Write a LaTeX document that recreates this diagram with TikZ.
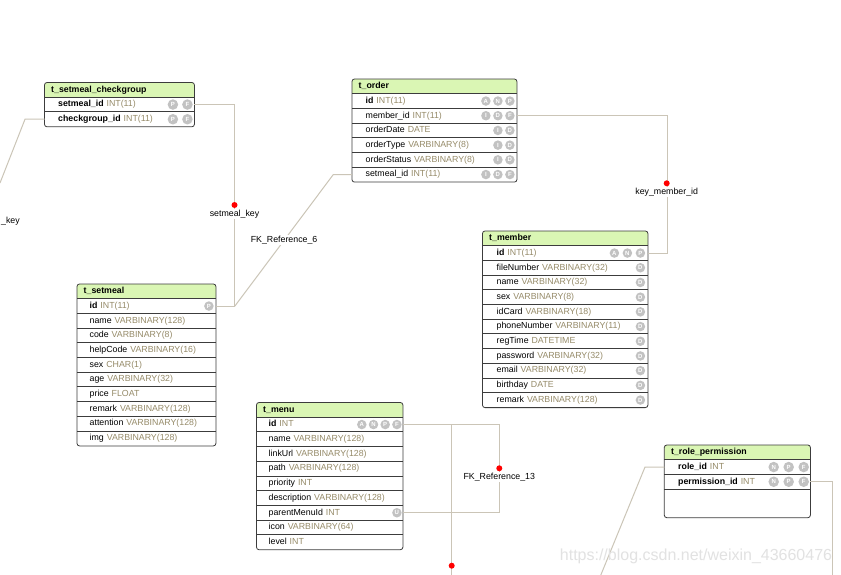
\documentclass[tikz,border=0pt]{standalone}
\usepackage{fontspec}
\setmainfont{Liberation Sans}
\usetikzlibrary{positioning}
\definecolor{headgreen}{HTML}{DAF6B4}
\definecolor{typegray}{HTML}{968B69}
\definecolor{icongray}{HTML}{C2C2C2}
\definecolor{linkgray}{HTML}{CBC5B7}
\definecolor{framegray}{HTML}{3C3C3C}
\definecolor{markgray}{HTML}{E2E2E2}
\newcommand{\erfont}{\fontsize{8.8}{10.5}\selectfont}
% frame, green header and title of one table
\newcommand{\ertable}[6]{%
  \node[tablebox, minimum width=#4pt, minimum height=#5pt] (#1) at (#2,#3) {};
  \begin{scope}
    \clip[rounded corners=2.5pt] (#1.north west) rectangle (#1.south east);
    \fill[headgreen] (#1.north west) rectangle ([yshift=-14.5pt]#1.north east);
  \end{scope}
  \draw[framegray, line width=0.8pt, rounded corners=2.5pt]
    (#1.north west) rectangle (#1.south east);
  \node[tabtitle] (#1-title) at ([xshift=6.5pt, yshift=-7.25pt]#1.north west) {#6};
}

\begin{document}
\begin{tikzpicture}[
    x=1pt, y=-1pt,
    tablebox/.style={anchor=north west, inner sep=0pt, fill=white},
    tabtitle/.style={anchor=west, inner sep=0pt, font=\erfont\bfseries,
      text height=6.4pt, text depth=1.8pt},
    tabrow/.style={anchor=north west, inner sep=0pt, minimum height=14.7pt,
      align=left, font=\erfont, text height=6.4pt, text depth=1.8pt},
    rowline/.style={framegray, line width=0.6pt},
    icon/.style={circle, fill=icongray, text=white, inner sep=0pt,
      minimum size=9.5pt, font=\fontsize{6}{6}\selectfont\bfseries},
    bigicon/.style={icon, minimum size=10.5pt},
    link/.style={draw=linkgray, line width=1pt},
    reddot/.style={circle, fill=red, inner sep=0pt, minimum size=6pt},
    linklabel/.style={fill=white, inner sep=1pt, font=\erfont},
    watermark/.style={text=markgray, font=\fontsize{16}{18}\selectfont}
  ]
  \useasboundingbox (0,0) rectangle (841,575);
  \fill[white] (0,0) rectangle (841,575);

  % t_setmeal_checkgroup
  \ertable{checkgroup}{44.5}{82.5}{149.5}{43.9}{t\_setmeal\_checkgroup}
  \foreach \fname/\ftype [count=\i] in {setmeal\_id/INT(11), checkgroup\_id/INT(11)} {
    \node[tabrow, text width=136pt] (checkgroup-\i) at (58, {97+(\i-1)*14.7})
      {\textbf{\fname}\ \textcolor{typegray}{\ftype}};
    \draw[rowline] (checkgroup.west |- checkgroup-\i.north) -- (checkgroup.east |- checkgroup-\i.north);
  }
  \foreach \rw in {1,2}
    \foreach \ic [count=\k] in {F,P}
      \node[bigicon] (checkgroup-\rw-\k) at ([xshift={-7pt-(\k-1)*14.5pt}]checkgroup-\rw.east) {\ic};

  % t_order
  \ertable{order}{352}{79}{164.5}{102.7}{t\_order}
  \foreach \fname/\ftype [count=\i] in {\textbf{id}/INT(11), member\_id/INT(11),
      orderDate/DATE, orderType/VARBINARY(8), orderStatus/VARBINARY(8), setmeal\_id/INT(11)} {
    \node[tabrow, text width=151pt] (order-\i) at (365.5, {93.5+(\i-1)*14.7})
      {\fname\ \textcolor{typegray}{\ftype}};
    \draw[rowline] (order.west |- order-\i.north) -- (order.east |- order-\i.north);
  }
  % icons listed from right to left
  \foreach \rw/\ics in {1/{P,N,A}, 2/{F,D,I}, 3/{D,I}, 4/{D,I}, 5/{D,I}, 6/{F,D,I}}
    \foreach \ic [count=\k] in \ics
      \node[icon] (order-\rw-\k) at ([xshift={-7pt-(\k-1)*12pt}]order-\rw.east) {\ic};

  % t_member
  \ertable{member}{482.5}{231}{165}{176.2}{t\_member}
  \foreach \fname/\ftype [count=\i] in {\textbf{id}/INT(11), fileNumber/VARBINARY(32),
      name/VARBINARY(32), sex/VARBINARY(8), idCard/VARBINARY(18), phoneNumber/VARBINARY(11),
      regTime/DATETIME, password/VARBINARY(32), email/VARBINARY(32), birthday/DATE,
      remark/VARBINARY(128)} {
    \node[tabrow, text width=151pt] (member-\i) at (496.5, {245.5+(\i-1)*14.7})
      {\fname\ \textcolor{typegray}{\ftype}};
    \draw[rowline] (member.west |- member-\i.north) -- (member.east |- member-\i.north);
  }
  \foreach \rw/\ics in {1/{P,N,A}, 2/D, 3/D, 4/D, 5/D, 6/D, 7/D, 8/D, 9/D, 10/D, 11/D}
    \foreach \ic [count=\k] in \ics
      \node[icon] (member-\rw-\k) at ([xshift={-7.5pt-(\k-1)*13pt}]member-\rw.east) {\ic};

  % t_setmeal
  \ertable{setmeal}{77}{284}{138.5}{161.5}{t\_setmeal}
  \foreach \fname/\ftype [count=\i] in {\textbf{id}/INT(11), name/VARBINARY(128),
      code/VARBINARY(8), helpCode/VARBINARY(16), sex/CHAR(1), age/VARBINARY(32),
      price/FLOAT, remark/VARBINARY(128), attention/VARBINARY(128), img/VARBINARY(128)} {
    \node[tabrow, text width=126pt] (setmeal-\i) at (89.5, {298.5+(\i-1)*14.7})
      {\fname\ \textcolor{typegray}{\ftype}};
    \draw[rowline] (setmeal.west |- setmeal-\i.north) -- (setmeal.east |- setmeal-\i.north);
  }
  \node[icon] (setmeal-1-1) at ([xshift=-7pt]setmeal-1.east) {P};

  % t_menu
  \ertable{menu}{256.5}{402.5}{146}{146.8}{t\_menu}
  \foreach \fname/\ftype [count=\i] in {\textbf{id}/INT, name/VARBINARY(128),
      linkUrl/VARBINARY(128), path/VARBINARY(128), priority/INT,
      description/VARBINARY(128), parentMenuId/INT, icon/VARBINARY(64), level/INT} {
    \node[tabrow, text width=134pt] (menu-\i) at (268.5, {417+(\i-1)*14.7})
      {\fname\ \textcolor{typegray}{\ftype}};
    \draw[rowline] (menu.west |- menu-\i.north) -- (menu.east |- menu-\i.north);
  }
  \foreach \rw/\ics in {1/{F,P,N,A}, 7/U}
    \foreach \ic [count=\k] in \ics
      \node[icon] (menu-\rw-\k) at ([xshift={-6pt-(\k-1)*11.7pt}]menu-\rw.east) {\ic};

  % t_role_permission
  \ertable{rolep}{664.3}{445}{145.7}{72.3}{t\_role\_permission}
  \foreach \fname/\ftype [count=\i] in {role\_id/INT, permission\_id/INT} {
    \node[tabrow, text width=132pt] (rolep-\i) at (678, {459.5+(\i-1)*14.7})
      {\textbf{\fname}\ \textcolor{typegray}{\ftype}};
    \draw[rowline] (rolep.west |- rolep-\i.north) -- (rolep.east |- rolep-\i.north);
  }
  \draw[rowline] (rolep.west |- rolep-2.south) -- (rolep.east |- rolep-2.south);
  \foreach \rw in {1,2}
    \foreach \ic [count=\k] in {F,P,N}
      \node[bigicon] (rolep-\rw-\k) at ([xshift={-6.7pt-(\k-1)*15pt}]rolep-\rw.east) {\ic};

  % connectors
  \path (setmeal-1.east) ++(19,0) coordinate (setmealjoint);
  \path (member-1.east) ++(19.2,0) coordinate (memberjoint);
  \path (menu-7.east) ++(96.8,0) coordinate (menuloop);
  \coordinate (menuout) at (451.7,580);
  \coordinate (checkout) at (0,183);
  \coordinate (roleout) at (600,577);
  \coordinate (permout) at (832.3,580);

  \draw[link] (checkgroup-1.east) -| (setmealjoint) -- (setmeal-1.east);
  \draw[link] (order.west |- order-6.west) -- ++(-18.7,0)
    -- node[linklabel] (fkref6-label) {FK\_Reference\_6} (setmealjoint);
  \draw[link] (order-2.east) -| (memberjoint) -- (member-1.east);
  \draw[link] (menu-1.east) -| (menuloop) -- (menu-7.east);
  \draw[link] (menu-1.east) -| (menuout);
  \draw[link] (checkgroup.west |- checkgroup-2.west) -- ++(-19.5,0) -- (checkout);
  \draw[link] (rolep.west |- rolep-1.west) -- ++(-19.3,0) -- (roleout);
  \draw[link] (rolep-2.east) -| (permout);

  \node[reddot] (setmealkey-dot) at (234.5,205) {};
  \node[linklabel, below=0.5pt of setmealkey-dot] (setmealkey-label) {setmeal\_key};
  \node[reddot] (memberkey-dot) at (666.7,183.3) {};
  \node[linklabel, below=0.5pt of memberkey-dot] (memberkey-label) {key\_member\_id};
  \node[reddot] (fkref13-dot) at (499.3,468.3) {};
  \node[linklabel, below=0.5pt of fkref13-dot] (fkref13-label) {FK\_Reference\_13};
  \node[reddot] (menuout-dot) at (451.7,565.7) {};
  \node[linklabel, anchor=west] (checkkey-label) at (0,221.7) {\_key};

  \node[watermark] (csdn-mark) at (696,556) {https://blog.csdn.net/weixin\_43660476};
\end{tikzpicture}
\end{document}
